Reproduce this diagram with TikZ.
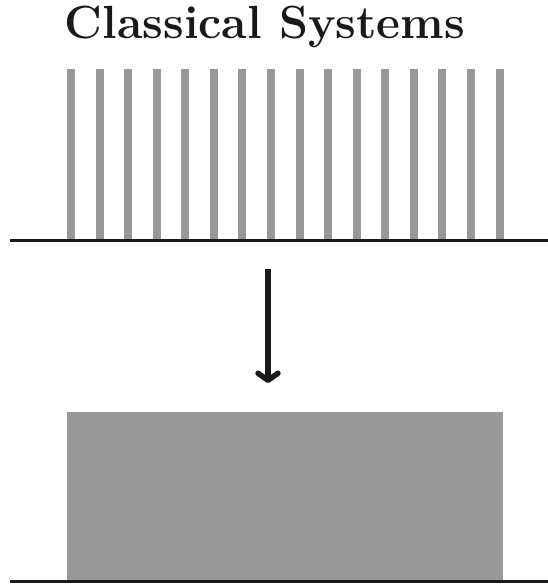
\documentclass[tikz,border=0pt]{standalone}
\usetikzlibrary{arrows.meta}
\definecolor{bargray}{HTML}{989898}
\begin{document}
\begin{tikzpicture}[x=1pt,y=-1pt,
  axis/.style={line width=3pt,draw=black!90},
  spike/.style={fill=bargray},
  flow/.style={line width=5.5pt,draw=black!90,
    -{Straight Barb[length=7pt,width=20pt,line cap=round,line join=round]}}]
  \useasboundingbox (0,0) rectangle (548,586);
  % heading
  \node[anchor=base,font=\fontsize{46.5}{54}\selectfont\bfseries,text=black!90] (title) at (265,39) {Classical Systems};
  % discrete spectrum: sixteen spikes on an axis
  \foreach \i in {0,...,15} {
    \fill[spike] ({67+28.57*\i},69) rectangle ({75+28.57*\i},240);
  }
  \coordinate (a1l) at (10,240.5);
  \coordinate (a1r) at (548,240.5);
  \draw[axis] (a1l) -- (a1r);
  % transition arrow
  \coordinate (arrtop) at (268,269);
  \coordinate (arrtip) at (268,383);
  \draw[flow] (arrtop) -- (arrtip);
  % continuous band
  \fill[spike] (67,411.5) rectangle (503,581);
  \coordinate (a2l) at (10,581.5);
  \coordinate (a2r) at (548,581.5);
  \draw[axis] (a2l) -- (a2r);
\end{tikzpicture}
\end{document}
